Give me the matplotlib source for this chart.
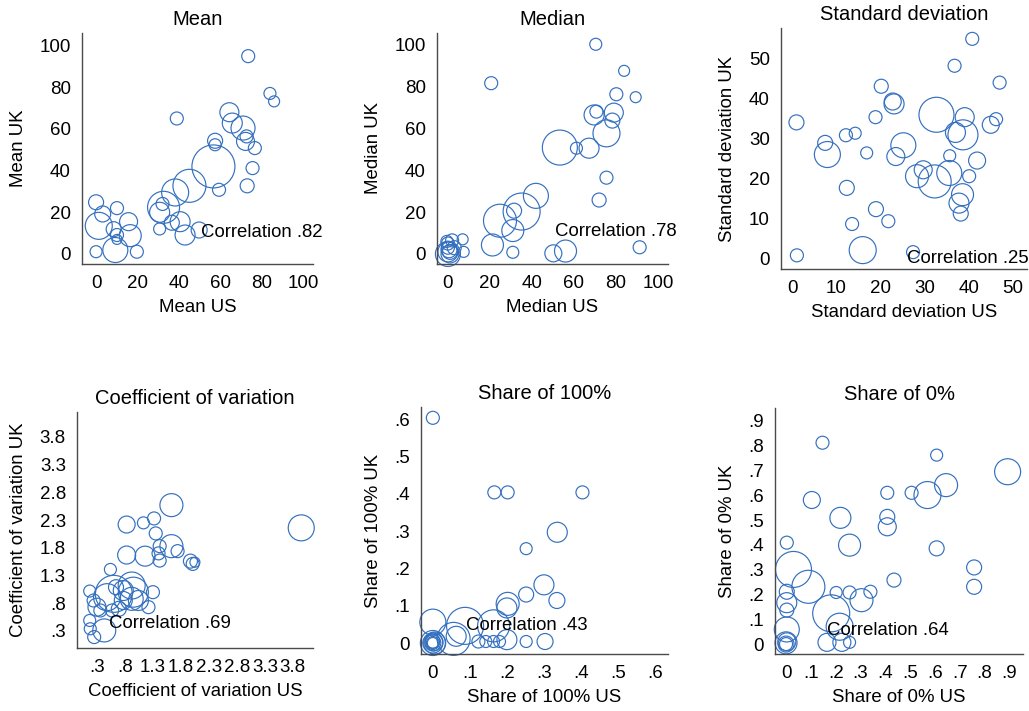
import matplotlib
matplotlib.use("Agg")
import matplotlib.pyplot as plt

plt.rcParams['font.family'] = ['Liberation Sans', 'DejaVu Sans']

# ---------------- data ----------------
# Mean
mean_us = [73.5, 84, 86, 39, 64.4, 65.8, 71, 72.7, 72.2, 57.5, 57.5, 76.7, 56.7, 75.6, 59.4, 73,
           45.1, 38.2, 32.6, 32.1, 30.7, 40.6, 36.6, 43, 30.7, 49.8, 0, 3.2, 10.1, 1.3, 15.7, 8.5,
           10.1, 16.5, 10.1, 9.3, 0, 19.7]
mean_uk = [94.9, 77, 73.2, 65, 68, 62.8, 60.4, 56.4, 54, 54.3, 52.4, 50.8, 42, 41.2, 30.8, 32.7,
           32.7, 29.5, 22.4, 24, 20, 15.5, 15, 9.1, 12, 11.5, 24.8, 19.2, 22, 13.5, 15.5, 11.9,
           9.1, 8.8, 7, 1.9, 1.1, 1.1]
mean_w = [13, 12, 11, 13, 19, 20, 24, 13, 18, 15, 12, 13, 43, 13, 13, 14,
          33, 27, 32, 13, 20, 20, 15, 20, 12, 16, 15, 16, 13, 27, 18, 15,
          13, 22, 10, 25, 12, 13]

# Median
median_us = [70.4, 83.9, 20.6, 80.2, 89.4, 69.6, 70.7, 79, 78.3, 75.5, 53.3, 61.2, 67.2, 75.5,
             72, 41.9, 35.1, 31.5, 24.8, 30.9, 21.2, 30.9, 50.2, 56, 91.3,
             0, 0, 0.5, 0, 1, 0, -0.5, 2, 7, 7.5, 3, 1]
median_uk = [100.3, 87.6, 81.7, 76.4, 75, 66.5, 68.1, 67.6, 63.8, 57.7, 50.9, 50.6, 50.6, 36.5,
             25.8, 27.8, 20.3, 20.7, 15.9, 11.2, 4.3, 0.8, 0.3, 1.4, 3.2,
             0, 1, 2, 3, 0, 5, 6, 6.5, 7, 1, 3, 1]
median_w = [12, 11, 13, 13, 11, 20, 13, 19, 15, 27, 35, 12, 20, 13,
            14, 25, 37, 15, 33, 22, 22, 12, 17, 22, 13,
            25, 20, 16, 13, 18, 13, 12, 13, 11, 11, 14, 15]

# Standard deviation
sd_us = [40.8, 36.8, 47, 20.2, 22.8, 23.1, 32.7, 39.1, 46.2, 45, 1, 18.9, 37, 38.7, 12.2, 14.3,
         7.5, 8, 25.2, 23.5, 16.9, 35.7, 41.9, 29.7, 28.3, 32.3, 35.6, 40.1, 12.4, 38.6, 37.8,
         38.2, 19, 21.8, 13.6, 16, 27.4, 1.1]
sd_uk = [54.8, 48.1, 43.9, 43, 39.2, 38.6, 35.9, 35.3, 34.8, 33.4, 34, 35.3, 31.5, 30.9, 30.8,
         31.3, 28.9, 26, 28.3, 25.5, 26.4, 25.7, 24.5, 22.2, 20.6, 19.3, 21.4, 20.6, 17.7, 16,
         13.9, 11.3, 12.4, 9.4, 8.7, 2.2, 1.7, 0.9]
sd_w = [13, 13, 13, 14, 17, 20, 35, 19, 13, 17, 15, 13, 20, 30, 13, 12,
        15, 26, 25, 18, 12, 12, 17, 18, 23, 33, 25, 13, 15, 22, 20,
        15, 15, 13, 13, 27, 13, 13]

# Coefficient of variation
cv_us = [1.63, 3.95, 0.83, 1.13, 1.32, 1.35, 1.42, 1.63, 1.16, 0.83, 1.74, 1.4, 1.42, 1.97, 2.05,
         2.01, 0.54, 0.43, 0.25, 0.17, 0.17, 0.24, 0.3, 0.48, 0.6, 0.77, 0.92, 0.95, 0.92, 1.04,
         1.3, 1.22, 0.69, 0.57, 0.36, 0.18, 0.77, 0.64]
cv_uk = [2.57, 2.16, 2.22, 2.25, 2.33, 2.06, 1.83, 1.83, 1.65, 1.67, 1.74, 1.7, 1.57, 1.56, 1.54,
         1.51, 1.41, 0.31, 0.19, 0.49, 1.02, 0.85, 0.73, 0.91, 0.97, 1.03, 1.12, 1.0, 0.88, 0.85,
         1.0, 0.73, 0.7, 0.67, 0.67, 0.34, 0.85, 1.09]
cv_w = [23, 26, 17, 12, 13, 13, 13, 23, 20, 18, 13, 13, 13, 14, 10,
        13, 12, 23, 13, 12, 12, 13, 18, 27, 37, 20, 27, 30, 23, 20,
        13, 13, 15, 13, 13, 12, 18, 15]

# Share of 100%
s100_us = [0, 0.166, 0.202, 0.404, 0.336, 0.252, 0.30, 0.252, 0.335, 0.202, 0.2, 0, 0.087, 0.164,
           0.056, 0.063, 0.123, 0.143, 0.164, 0.18, 0.2, 0.252, 0.303,
           0, 0, 0, 0, 0.003, 0, 0.005, 0]
s100_uk = [0.604, 0.404, 0.404, 0.404, 0.297, 0.253, 0.156, 0.13, 0.114, 0.105, 0.094, 0.056,
           0.046, 0.046, 0.011, 0.018, 0.004, 0.004, 0.004, 0.004, 0.009, 0.004, 0.004,
           0, 0, 0, 0, 0.003, 0.005, 0, 0]
s100_w = [13, 13, 13, 13, 20, 12, 20, 15, 16, 23, 20, 26, 37, 32, 33, 20, 13, 12, 12, 12, 20, 12,
          16, 25, 20, 16, 13, 18, 14, 22, 11]

# Share of 0%
s0_us = [0.147, 0.607, 0.893, 0.645, 0.57, 0.506, 0.408, 0.104, 0.219, 0.408, 0.408, 0.256,
         0.003, 0.607, 0.03, 0.09, 0.758, 0.758, 0.435, 0.003, 0.003, 0.003, 0.202, 0.256, 0.34,
         0.304, 0.182, 0.216, 0.003, 0.003, 0.165, 0.225, 0.256, 0, 0, 0]
s0_uk = [0.812, 0.762, 0.695, 0.641, 0.601, 0.61, 0.61, 0.581, 0.509, 0.513, 0.473, 0.399,
         0.409, 0.386, 0.301, 0.231, 0.309, 0.231, 0.258, 0.211, 0.167, 0.137, 0.208, 0.208, 0.211,
         0.177, 0.124, 0.07, 0.059, 0.009, 0.007, 0.007, 0.007, 0, 0.005, 0]
s0_w = [13, 12, 26, 23, 27, 13, 13, 17, 21, 15, 18, 22,
        13, 15, 36, 33, 15, 15, 14, 15, 20, 14, 12, 13, 13,
        23, 37, 27, 25, 18, 18, 18, 12, 13, 22, 16]

mean_ticks = [0, 20, 40, 60, 80, 100]
sd_ticks = [0, 10, 20, 30, 40, 50]
cv_ticks = [0.3, 0.8, 1.3, 1.8, 2.3, 2.8, 3.3, 3.8]
cv_labels = ['.3', '.8', '1.3', '1.8', '2.3', '2.8', '3.3', '3.8']
s100_ticks = [0, 0.1, 0.2, 0.3, 0.4, 0.5, 0.6]
s100_labels = ['0', '.1', '.2', '.3', '.4', '.5', '.6']
s0_ticks = [0, 0.1, 0.2, 0.3, 0.4, 0.5, 0.6, 0.7, 0.8, 0.9]
s0_labels = ['0', '.1', '.2', '.3', '.4', '.5', '.6', '.7', '.8', '.9']

# ---------------- drawing ----------------
W, H = 1029, 711
fig = plt.figure(figsize=(W / 100, H / 100), dpi=100)
fig.patch.set_facecolor('white')

BLUE = '#3470bf'
SPINE = '#4a4a4a'


def panel(box, xlim, ylim, x, y, w, xt, xtl, yt, ytl, title, xlabel, ylabel, corr, cpos, ylpad):
    l, r, t, b = box
    ax = fig.add_axes([l / W, (H - b) / H, (r - l) / W, (b - t) / H])
    ax.scatter(x, y, s=[(v * 0.72) ** 2 for v in w], facecolors='none', edgecolors=BLUE,
               linewidths=0.85, clip_on=False, zorder=2)
    ax.set_xlim(*xlim)
    ax.set_ylim(*ylim)
    ax.set_xticks(xt)
    ax.set_xticklabels(xtl)
    ax.set_yticks(yt)
    ax.set_yticklabels(ytl)
    for s in ('top', 'right'):
        ax.spines[s].set_visible(False)
    for s in ('left', 'bottom'):
        ax.spines[s].set_color(SPINE)
        ax.spines[s].set_linewidth(1.0)
    ax.tick_params(axis='x', length=0, pad=8, labelsize=13.5)
    ax.tick_params(axis='y', length=0, pad=8, labelsize=13.5)
    ax.set_title(title, fontsize=14.5, pad=5.5)
    ax.set_xlabel(xlabel, fontsize=13.4, labelpad=5)
    ax.set_ylabel(ylabel, fontsize=13.4, labelpad=ylpad)
    ax.text(cpos[0], cpos[1], 'Correlation ' + corr, fontsize=13.4, ha='left', va='center',
            zorder=3)
    ax.set_facecolor('none')
    return ax


panel((82, 313, 33, 264), (-6.8, 104.8), (-4.8, 106), mean_us, mean_uk, mean_w,
      mean_ticks, [str(v) for v in mean_ticks], mean_ticks, [str(v) for v in mean_ticks],
      'Mean', 'Mean US', 'Mean UK', '.82', (50.7, 10.1), 9)
panel((437, 668, 33, 264), (-5.2, 104.8), (-4.8, 105.7), median_us, median_uk, median_w,
      mean_ticks, [str(v) for v in mean_ticks], mean_ticks, [str(v) for v in mean_ticks],
      'Median', 'Median US', 'Median UK', '.78', (51, 10.6), 9)
panel((781, 1027, 28, 269), (-2.5, 53.2), (-2.5, 57.5), sd_us, sd_uk, sd_w,
      sd_ticks, [str(v) for v in sd_ticks], sd_ticks, [str(v) for v in sd_ticks],
      'Standard deviation', 'Standard deviation US', 'Standard deviation UK', '.25', (26, 0.2), 9)
panel((77, 313, 412, 648), (-0.057, 4.16), (-0.007, 4.25), cv_us, cv_uk, cv_w,
      cv_ticks, cv_labels, cv_ticks, cv_labels,
      'Coefficient of variation', 'Coefficient of variation US', 'Coefficient of variation UK',
      '.69', (0.51, 0.44), 9)
panel((421, 668, 407, 654), (-0.032, 0.635), (-0.0295, 0.633), s100_us, s100_uk, s100_w,
      s100_ticks, s100_labels, s100_ticks, s100_labels,
      'Share of 100%', 'Share of 100% US', 'Share of 100% UK', '.43', (0.089, 0.046), 9)
panel((775, 1023, 408, 654), (-0.0445, 0.955), (-0.040, 0.952), s0_us, s0_uk, s0_w,
      s0_ticks, s0_labels, s0_ticks, s0_labels,
      'Share of 0%', 'Share of 0% US', 'Share of 0% UK', '.64', (0.165, 0.054), 9)

fig.savefig('out.png', dpi=100, facecolor='white')
